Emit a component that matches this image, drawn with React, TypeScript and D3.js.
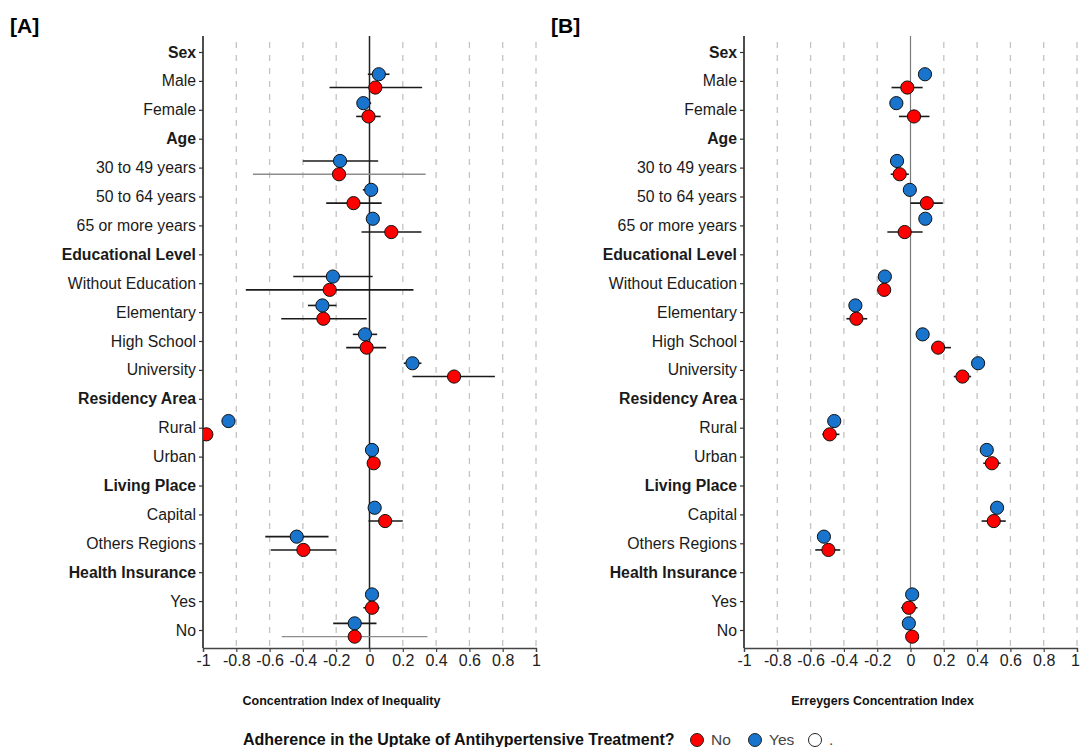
import React, { useEffect, useRef } from 'react';
import * as d3 from 'd3';

// rows of the y axis, headers in bold
const rows = [
  'Sex', 'Male', 'Female',
  'Age', '30 to 49 years', '50 to 64 years', '65 or more years',
  'Educational Level', 'Without Education', 'Elementary', 'High School', 'University',
  'Residency Area', 'Rural', 'Urban',
  'Living Place', 'Capital', 'Others Regions',
  'Health Insurance', 'Yes', 'No',
];
const headers = ['Sex', 'Age', 'Educational Level', 'Residency Area', 'Living Place', 'Health Insurance'];

const categories = [
  'Male', 'Female', '30 to 49 years', '50 to 64 years', '65 or more years',
  'Without Education', 'Elementary', 'High School', 'University',
  'Rural', 'Urban', 'Capital', 'Others Regions', 'Yes', 'No',
];

// [A] Concentration Index of Inequality
const ciYes = [0.056, -0.037, -0.177, 0.01, 0.02, -0.22, -0.283, -0.027, 0.258, -0.847, 0.015, 0.031, -0.437, 0.015, -0.089];
const ciYesLo = [-0.01, -0.07, -0.40, -0.04, 0.005, -0.458, -0.37, -0.10, 0.206, -0.86, 0.0, 0.015, -0.626, 0.0, -0.218];
const ciYesHi = [0.12, 0.01, 0.052, 0.035, 0.035, 0.019, -0.198, 0.046, 0.312, -0.835, 0.03, 0.047, -0.246, 0.03, 0.042];
const ciNo = [0.035, -0.006, -0.183, -0.096, 0.131, -0.239, -0.277, -0.017, 0.508, -0.98, 0.025, 0.094, -0.397, 0.015, -0.089];
const ciNoLo = [-0.24, -0.08, -0.70, -0.26, -0.048, -0.743, -0.53, -0.14, 0.258, -1.0, 0.01, -0.006, -0.593, -0.037, -0.527];
const ciNoHi = [0.316, 0.067, 0.337, 0.073, 0.312, 0.264, -0.017, 0.10, 0.753, -0.96, 0.04, 0.2, -0.2, 0.06, 0.348];

// [B] Erreygers Concentration Index
const egYes = [0.087, -0.085, -0.081, -0.004, 0.089, -0.154, -0.331, 0.073, 0.406, -0.458, 0.458, 0.52, -0.52, 0.01, -0.01];
const egYesLo = [0.075, -0.097, -0.093, -0.016, 0.077, -0.166, -0.343, 0.061, 0.394, -0.47, 0.446, 0.508, -0.532, -0.002, -0.022];
const egYesHi = [0.099, -0.073, -0.069, 0.008, 0.101, -0.142, -0.319, 0.085, 0.418, -0.446, 0.47, 0.532, -0.508, 0.022, 0.002];
const egNo = [-0.019, 0.021, -0.065, 0.098, -0.035, -0.158, -0.325, 0.166, 0.312, -0.485, 0.489, 0.5, -0.493, -0.01, 0.01];
const egNoLo = [-0.114, -0.069, -0.119, 0.0, -0.139, -0.17, -0.385, 0.125, 0.26, -0.53, 0.437, 0.427, -0.572, -0.056, 0.0];
const egNoHi = [0.073, 0.114, -0.01, 0.194, 0.073, -0.146, -0.26, 0.243, 0.364, -0.427, 0.541, 0.572, -0.422, 0.042, 0.02];

const xTicks = [-1, -0.8, -0.6, -0.4, -0.2, 0, 0.2, 0.4, 0.6, 0.8, 1];

// red bars that come out lighter in the original
const lightBars = ['30 to 49 years', 'No'];

const RED = '#ff0000';
const BLUE = '#1874cd';
const FONT = '"Liberation Sans", Arial, Helvetica, sans-serif';

const panels = [
  {
    tag: '[A]', title: 'Concentration Index of Inequality', x0: 203, x1: 536, zero: '#222', zeroW: 1.5,
    yes: ciYes, yesLo: ciYesLo, yesHi: ciYesHi, no: ciNo, noLo: ciNoLo, noHi: ciNoHi,
  },
  {
    tag: '[B]', title: 'Erreygers Concentration Index', x0: 744, x1: 1077, zero: '#7a7a7a', zeroW: 1.2,
    yes: egYes, yesLo: egYesLo, yesHi: egYesHi, no: egNo, noLo: egNoLo, noHi: egNoHi,
  },
];

const App = () => {
  const ref = useRef<SVGSVGElement>(null);

  useEffect(() => {
    const svg = d3.select(ref.current);
    svg.selectAll('*').remove();

    const top = 36;
    const bottom = 648;
    const y = d3.scalePoint<string>().domain(rows).range([52, 630]);
    const dodge = y.step() * 0.23;

    panels.forEach((p, pi) => {
      const x = d3.scaleLinear().domain([-1, 1]).range([p.x0, p.x1]);
      const g = svg.append('g');

      const clipId = `clip-${pi}`;
      svg.append('defs').append('clipPath').attr('id', clipId)
        .append('rect').attr('x', p.x0).attr('y', top).attr('width', p.x1 - p.x0 + 10).attr('height', bottom - top);

      g.append('text')
        .attr('x', p.x0 - 193).attr('y', 33)
        .style('font-family', FONT).style('font-size', '21px').style('font-weight', 'bold')
        .text(p.tag);

      // dashed grid
      g.selectAll('.grid')
        .data(xTicks.filter(t => t !== -1 && t !== 0))
        .enter().append('line')
        .attr('x1', d => x(d)).attr('x2', d => x(d))
        .attr('y1', top + 6).attr('y2', bottom)
        .style('stroke', '#c4c4c4').style('stroke-width', 1.3).style('stroke-dasharray', '6,7');

      // zero line
      g.append('line')
        .attr('x1', x(0)).attr('x2', x(0)).attr('y1', top).attr('y2', bottom)
        .style('stroke', p.zero).style('stroke-width', p.zeroW);

      // axes
      const xAxis = g.append('g')
        .attr('transform', `translate(0,${bottom})`)
        .call(d3.axisBottom(x).tickValues(xTicks).tickSize(4).tickPadding(3).tickFormat(d => String(d)));
      xAxis.select('.domain').style('stroke', '#444').style('stroke-width', 1.3);
      xAxis.selectAll('.tick line').style('stroke', '#444').style('stroke-width', 1.2);
      xAxis.selectAll('text').style('font-family', FONT).style('font-size', '16px').style('fill', '#222')
        .attr('dx', d => (d === 1 && pi === 1 ? -2 : 0));

      const yAxis = g.append('g')
        .attr('transform', `translate(${p.x0},0)`)
        .call(d3.axisLeft(y).tickSize(4).tickPadding(3).tickSizeOuter(0));
      yAxis.select('.domain').attr('d', `M0,${top}V${bottom}`).style('stroke', '#222').style('stroke-width', 1.6);
      yAxis.selectAll('.tick line').style('stroke', '#333').style('stroke-width', 1.2);
      yAxis.selectAll('text')
        .style('font-family', FONT).style('font-size', '15.8px').style('fill', '#1a1a1a')
        .style('font-weight', d => headers.includes(d as string) ? 'bold' : 'normal');

      g.append('text')
        .attr('x', (p.x0 + p.x1) / 2 - 28).attr('y', 705)
        .attr('text-anchor', 'middle')
        .style('font-family', FONT).style('font-size', '12.5px').style('font-weight', 'bold').style('fill', '#111')
        .text(p.title);

      const marks = g.append('g').attr('clip-path', `url(#${clipId})`);
      const series = [
        { v: p.yes, lo: p.yesLo, hi: p.yesHi, off: -dodge, fill: BLUE, light: [] as string[] },
        { v: p.no, lo: p.noLo, hi: p.noHi, off: dodge, fill: RED, light: pi === 0 ? lightBars : [] },
      ];

      series.forEach(s => {
        marks.selectAll(null)
          .data(categories)
          .enter().append('line')
          .attr('x1', (d, i) => x(s.lo[i])).attr('x2', (d, i) => x(s.hi[i]))
          .attr('y1', d => (y(d) as number) + s.off).attr('y2', d => (y(d) as number) + s.off)
          .style('stroke', d => s.light.includes(d) ? '#8c8c8c' : '#1a1a1a')
          .style('stroke-width', d => s.light.includes(d) ? 1.3 : 1.6);
      });

      series.forEach(s => {
        marks.selectAll(null)
          .data(categories)
          .enter().append('circle')
          .attr('cx', (d, i) => x(s.v[i]))
          .attr('cy', d => (y(d) as number) + s.off)
          .attr('r', 6.6)
          .style('fill', s.fill).style('stroke', '#111').style('stroke-width', 1);
      });
    });

    // legend
    const legend = svg.append('g').attr('transform', 'translate(0,740)');
    legend.append('text')
      .attr('x', 243).attr('y', 5)
      .style('font-family', FONT).style('font-size', '16px').style('font-weight', 'bold').style('fill', '#111')
      .text('Adherence in the Uptake of Antihypertensive Treatment?');
    const items = [
      { label: 'No', fill: RED, cx: 697 },
      { label: 'Yes', fill: BLUE, cx: 755 },
      { label: '.', fill: 'none', cx: 815 },
    ];
    items.forEach(it => {
      legend.append('circle').attr('cx', it.cx).attr('cy', 0).attr('r', 6.5)
        .style('fill', it.fill).style('stroke', '#222').style('stroke-width', 1);
      legend.append('text')
        .attr('x', it.cx + 14).attr('y', 5)
        .style('font-family', FONT).style('font-size', '15.5px').style('fill', '#444')
        .text(it.label);
    });
  }, []);

  return (
    <svg ref={ref} width={1080} height={747}
      style={{ position: 'absolute', left: 0, top: 0, background: '#fff' }} />
  );
};

export default App;
